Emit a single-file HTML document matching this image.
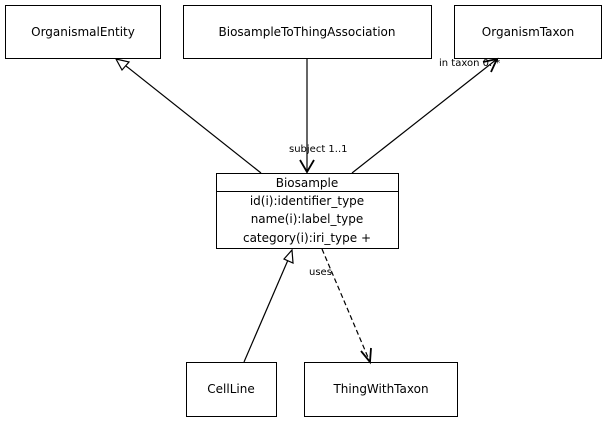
<!DOCTYPE html>
<html><head><style>
body{margin:0;background:#fff;}
svg{display:block;font-family:"DejaVu Sans","Liberation Sans",sans-serif;}
</style></head><body>
<svg width="605" height="423" viewBox="0 0 605 423">
<rect width="605" height="423" fill="#fff"/>
<g fill="#fff" stroke="#000" stroke-width="1">
<rect x="5.5" y="5.5" width="155" height="53"/>
<rect x="183.5" y="5.5" width="248" height="53"/>
<rect x="454.5" y="5.5" width="147" height="53"/>
<rect x="216.5" y="173.5" width="182" height="75"/>
<line x1="216.5" y1="191.5" x2="398.5" y2="191.5"/>
<rect x="186.5" y="362.5" width="90" height="54"/>
<rect x="304.5" y="362.5" width="153" height="54"/>
</g>
<g font-size="12" text-anchor="middle" fill="#000">
<text x="83" y="36">OrganismalEntity</text>
<text x="307" y="36">BiosampleToThingAssociation</text>
<text x="528" y="36">OrganismTaxon</text>
<text x="307" y="187">Biosample</text>
<text x="307" y="205">id(i):identifier_type</text>
<text x="307" y="223">name(i):label_type</text>
<text x="307" y="242">category(i):iri_type +</text>
<text x="231" y="393">CellLine</text>
<text x="381" y="393">ThingWithTaxon</text>
</g>
<g stroke="#000" stroke-width="1.2" fill="none">
<line x1="261" y1="173" x2="126" y2="66"/>
<polygon points="116,59 129,62 122,70" fill="#fff"/>
<line x1="307" y1="58" x2="307" y2="172"/>
<polyline points="300,160 307,172 314,160" stroke-width="1.8"/>
<line x1="352" y1="173" x2="497" y2="59"/>
<polyline points="483,62 497,59 491,72" stroke-width="1.8"/>
<line x1="244" y1="362" x2="288" y2="260"/>
<polygon points="292,250 293,263 284,259" fill="#fff"/>
<line x1="322" y1="249" x2="370" y2="362" stroke-dasharray="5,3"/>
<polyline points="361,351 370,362 371,348" stroke-width="1.8"/>
</g>
<g font-size="10" fill="#000">
<text x="289" y="152">subject 1..1</text>
<text x="439" y="66">in taxon 0..*</text>
<text x="309" y="275">uses</text>
</g>
</svg>
</body></html>
